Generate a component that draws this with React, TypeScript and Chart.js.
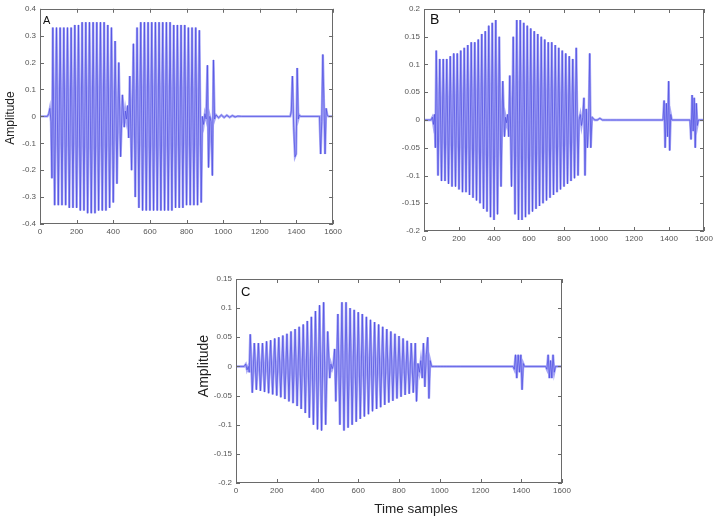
import React, { useEffect, useRef } from "react";
import { Chart, registerables } from "chart.js";

Chart.register(...registerables);

// Time-sample positions (shared by all three panels)
const samples = [
  0, 40, 48, 54, 60, 65,
  70, 80, 90, 100, 110, 120, 130, 140, 150, 160, 170, 180, 190, 200,
  210, 220, 230, 240, 250, 260, 270, 280, 290, 300, 310, 320, 330, 340, 350, 360,
  370, 380, 390, 400, 410, 420, 430, 440, 450, 460,
  466, 472, 478, 484,
  490, 500, 510, 520, 530, 540, 550, 560, 570, 580, 590, 600, 610, 620, 630, 640,
  650, 660, 670, 680, 690, 700, 710, 720, 730, 740, 750, 760, 770, 780, 790, 800,
  810, 820, 830, 840, 850, 860, 870, 880,
  886, 893, 900, 907, 914, 920, 927, 934, 941, 947, 953, 960, 975, 990, 1005, 1020,
  1035, 1050, 1065, 1080, 1100,
  1360, 1366, 1372, 1378, 1385, 1392, 1398, 1404, 1410, 1416, 1422,
  1520, 1526, 1532, 1538, 1544, 1550, 1556, 1562, 1568, 1574, 1600,
];

// Panel A amplitudes
const ampA = [
  0, 0, 0.01, 0.03, -0.02, -0.23,
  0.33, -0.33, 0.33, -0.33, 0.33, -0.33, 0.33, -0.33, 0.33, -0.34, 0.33, -0.34, 0.34, -0.34,
  0.34, -0.35, 0.35, -0.35, 0.35, -0.36, 0.35, -0.36, 0.35, -0.36, 0.35, -0.35, 0.35, -0.35, 0.35, -0.35,
  0.34, -0.34, 0.33, -0.32, 0.28, -0.25, 0.2, -0.15, 0.08, -0.04,
  0.02, -0.01, 0.04, -0.08,
  0.15, -0.2, 0.27, -0.3, 0.33, -0.34, 0.35, -0.35, 0.35, -0.35, 0.35, -0.35, 0.35, -0.35, 0.35, -0.35,
  0.35, -0.35, 0.35, -0.35, 0.35, -0.35, 0.35, -0.35, 0.34, -0.34, 0.34, -0.34, 0.34, -0.34, 0.34, -0.33,
  0.33, -0.33, 0.33, -0.33, 0.33, -0.33, 0.32, -0.32,
  0.0, -0.03, 0.01, -0.01, 0.19, -0.19, 0.0, -0.02, -0.22, 0.21, -0.01, 0.006, -0.005, 0.005, -0.004, 0.004,
  -0.003, 0.003, -0.002, 0.001, 0,
  0, 0, 0.02, 0.15, -0.04, -0.15, -0.14, 0.18, -0.01, 0.005, 0,
  0, 0, -0.14, -0.02, 0.23, 0.05, -0.14, 0.03, 0.005, 0, 0,
];

// Panel B amplitudes
const ampB = [
  0, 0, 0.005, -0.008, 0.01, -0.05,
  0.125, -0.1, 0.11, -0.11, 0.11, -0.11, 0.11, -0.115, 0.115, -0.12, 0.12, -0.12, 0.12, -0.125,
  0.125, -0.13, 0.13, -0.13, 0.135, -0.135, 0.14, -0.14, 0.14, -0.145, 0.145, -0.15, 0.155, -0.16, 0.16, -0.165,
  0.17, -0.175, 0.175, -0.18, 0.18, -0.17, 0.15, -0.12, 0.07, -0.03,
  0.005, -0.005, 0.01, -0.03,
  0.08, -0.12, 0.15, -0.17, 0.18, -0.18, 0.18, -0.18, 0.175, -0.175, 0.17, -0.17, 0.165, -0.165, 0.16, -0.16,
  0.155, -0.155, 0.15, -0.15, 0.145, -0.145, 0.14, -0.14, 0.14, -0.135, 0.135, -0.13, 0.13, -0.125, 0.125, -0.12,
  0.12, -0.115, 0.115, -0.11, 0.11, -0.105, 0.13, -0.1,
  0.0, 0.01, -0.01, 0.005, 0.04, -0.1, 0.02, -0.05, 0.0, 0.12, -0.05, 0.005, 0, 0, 0.003, 0,
  0, 0, 0, 0, 0,
  0, 0, 0.035, -0.05, 0.03, -0.03, 0.07, -0.055, 0.01, 0, 0,
  0, -0.035, 0.045, -0.02, 0.04, -0.05, 0.03, -0.01, 0, 0, 0,
];

// Panel C amplitudes
const ampC = [
  0, 0, 0.004, -0.006, 0, -0.01,
  0.055, -0.045, 0.04, -0.04, 0.04, -0.042, 0.04, -0.044, 0.043, -0.046, 0.045, -0.048, 0.048, -0.05,
  0.05, -0.053, 0.053, -0.056, 0.056, -0.06, 0.06, -0.063, 0.064, -0.068, 0.068, -0.073, 0.072, -0.08, 0.078, -0.088,
  0.085, -0.1, 0.095, -0.108, 0.105, -0.11, 0.11, -0.1, 0.06, -0.02,
  0.004, -0.004, 0.003, 0.03,
  -0.06, 0.09, -0.1, 0.11, -0.11, 0.11, -0.105, 0.1, -0.1, 0.097, -0.095, 0.093, -0.09, 0.09, -0.086, 0.085,
  -0.082, 0.08, -0.077, 0.076, -0.073, 0.072, -0.07, 0.068, -0.066, 0.064, -0.062, 0.06, -0.059, 0.056, -0.055, 0.052,
  -0.052, 0.048, -0.049, 0.044, -0.047, 0.04, -0.045, 0.04,
  -0.06, 0.005, -0.01, 0.01, -0.02, 0.04, -0.035, 0.02, 0.05, -0.055, 0.01, 0, 0, 0, 0, 0,
  0, 0, 0, 0, 0,
  0, -0.005, 0.02, -0.02, 0.02, -0.01, 0.02, -0.04, 0.005, 0, 0,
  0, -0.005, 0.02, -0.02, 0.01, -0.02, 0.02, -0.01, 0, 0, 0,
];

const xTicksMax = 1600;
const xTickStep = 200;

const FONT = "'Liberation Sans', Arial, sans-serif";

type Label = { text: string; size: number; x: number; y: number; rot: boolean };

type PanelCfg = {
  letter: string;
  letterSize: number;
  letterDx: number;
  letterDy: number;
  values: number[];
  yMin: number;
  yMax: number;
  yStep: number;
  left: number;
  top: number;
  w: number;
  h: number;
  yW: number;
  xH: number;
  pad: { top: number; right: number; left: number; bottom: number };
  titles: Label[];
};

const panels: PanelCfg[] = [
  {
    letter: "A", letterSize: 11, letterDx: 3, letterDy: 15.5, values: ampA,
    yMin: -0.4, yMax: 0.4, yStep: 0.1,
    left: 0, top: 0, w: 345, h: 240, yW: 40, xH: 16,
    pad: { top: 5, right: 9, left: 0, bottom: 0 },
    titles: [{ text: "Amplitude", size: 12, x: 11, y: 118, rot: true }],
  },
  {
    letter: "B", letterSize: 14, letterDx: 6, letterDy: 14.5, values: ampB,
    yMin: -0.2, yMax: 0.2, yStep: 0.05,
    left: 380, top: 0, w: 336, h: 246, yW: 44, xH: 15,
    pad: { top: 9, right: 12, left: 0, bottom: 0 },
    titles: [],
  },
  {
    letter: "C", letterSize: 13, letterDx: 5, letterDy: 17, values: ampC,
    yMin: -0.2, yMax: 0.15, yStep: 0.05,
    left: 190, top: 250, w: 390, h: 269, yW: 46, xH: 36,
    pad: { top: 29, right: 18, left: 0, bottom: 0 },
    titles: [
      { text: "Amplitude", size: 14, x: 14, y: 116, rot: true },
      { text: "Time samples", size: 13.5, x: 226, y: 259, rot: false },
    ],
  },
];

const framePlugin = {
  id: "frame",
  afterDraw(chart: any, _args: any, opts: any) {
    const { ctx, chartArea: a, scales } = chart;
    const xs = scales.x;
    const ys = scales.y;
    ctx.save();
    ctx.strokeStyle = "#6a6a6a";
    ctx.lineWidth = 1;
    ctx.strokeRect(Math.round(a.left) + 0.5, Math.round(a.top) + 0.5, Math.round(a.width) - 1, Math.round(a.height) - 1);
    ctx.beginPath();
    xs.ticks.forEach((t: any) => {
      const px = Math.round(xs.getPixelForValue(t.value)) + 0.5;
      ctx.moveTo(px, a.bottom);
      ctx.lineTo(px, a.bottom - 4);
      ctx.moveTo(px, a.top);
      ctx.lineTo(px, a.top + 4);
    });
    ys.ticks.forEach((t: any) => {
      const py = Math.round(ys.getPixelForValue(t.value)) + 0.5;
      ctx.moveTo(a.left, py);
      ctx.lineTo(a.left + 4, py);
      ctx.moveTo(a.right, py);
      ctx.lineTo(a.right - 4, py);
    });
    ctx.stroke();
    ctx.fillStyle = "#111";
    ctx.font = `${opts.size}px ${FONT}`;
    ctx.textBaseline = "alphabetic";
    ctx.textAlign = "left";
    ctx.fillText(opts.letter, a.left + opts.dx, a.top + opts.dy);
    ctx.fillStyle = "#222";
    ctx.textAlign = "center";
    ctx.textBaseline = "middle";
    (opts.titles as Label[]).forEach((t) => {
      ctx.save();
      ctx.font = `${t.size}px ${FONT}`;
      ctx.translate(t.x, t.y);
      if (t.rot) ctx.rotate(-Math.PI / 2);
      ctx.fillText(t.text, 0, 0);
      ctx.restore();
    });
    ctx.restore();
  },
};

function Panel({ cfg }: { cfg: PanelCfg }) {
  const ref = useRef<HTMLCanvasElement | null>(null);
  useEffect(() => {
    if (!ref.current) return;
    const data = samples.map((s, i) => ({ x: s, y: cfg.values[i] }));
    const chart = new Chart(ref.current, {
      type: "line",
      data: {
        datasets: [
          {
            data,
            borderColor: "rgba(110,110,240,0.6)",
            borderWidth: 2.4,
            pointRadius: 0,
            tension: 0,
            fill: false,
          },
          {
            data,
            borderColor: "rgba(20,20,200,0.85)",
            borderWidth: 0.8,
            pointRadius: 0,
            tension: 0,
            fill: false,
          },
        ],
      },
      options: {
        animation: false,
        responsive: false,
        devicePixelRatio: 1,
        events: [],
        layout: { padding: cfg.pad },
        plugins: {
          legend: { display: false },
          tooltip: { enabled: false },
          frame: { letter: cfg.letter, size: cfg.letterSize, dx: cfg.letterDx, dy: cfg.letterDy, titles: cfg.titles },
        } as any,
        scales: {
          x: {
            type: "linear",
            min: 0,
            max: xTicksMax,
            grid: { display: false, drawTicks: false },
            border: { display: false },
            ticks: {
              stepSize: xTickStep,
              maxRotation: 0,
              autoSkip: false,
              padding: 3,
              color: "#555",
              font: { family: FONT, size: 8 },
              callback: (v: any) => String(v),
            },
            afterFit: (scale: any) => {
              scale.height = cfg.xH;
            },
          },
          y: {
            type: "linear",
            min: cfg.yMin,
            max: cfg.yMax,
            grid: { display: false, drawTicks: false },
            border: { display: false },
            ticks: {
              stepSize: cfg.yStep,
              autoSkip: false,
              padding: 4,
              color: "#555",
              font: { family: FONT, size: 8 },
              callback: (v: any) => String(Math.round(Number(v) * 100) / 100),
            },
            afterFit: (scale: any) => {
              scale.width = cfg.yW;
            },
          },
        },
      },
      plugins: [framePlugin],
    });
    return () => chart.destroy();
  }, [cfg]);
  return (
    <canvas
      ref={ref}
      width={cfg.w}
      height={cfg.h}
      style={{ position: "absolute", left: cfg.left, top: cfg.top, width: cfg.w, height: cfg.h }}
    />
  );
}

export default function App() {
  return (
    <div style={{ position: "absolute", left: 0, top: 0, width: 716, height: 519, background: "#fff" }}>
      {panels.map((p) => (
        <Panel key={p.letter} cfg={p} />
      ))}
    </div>
  );
}
